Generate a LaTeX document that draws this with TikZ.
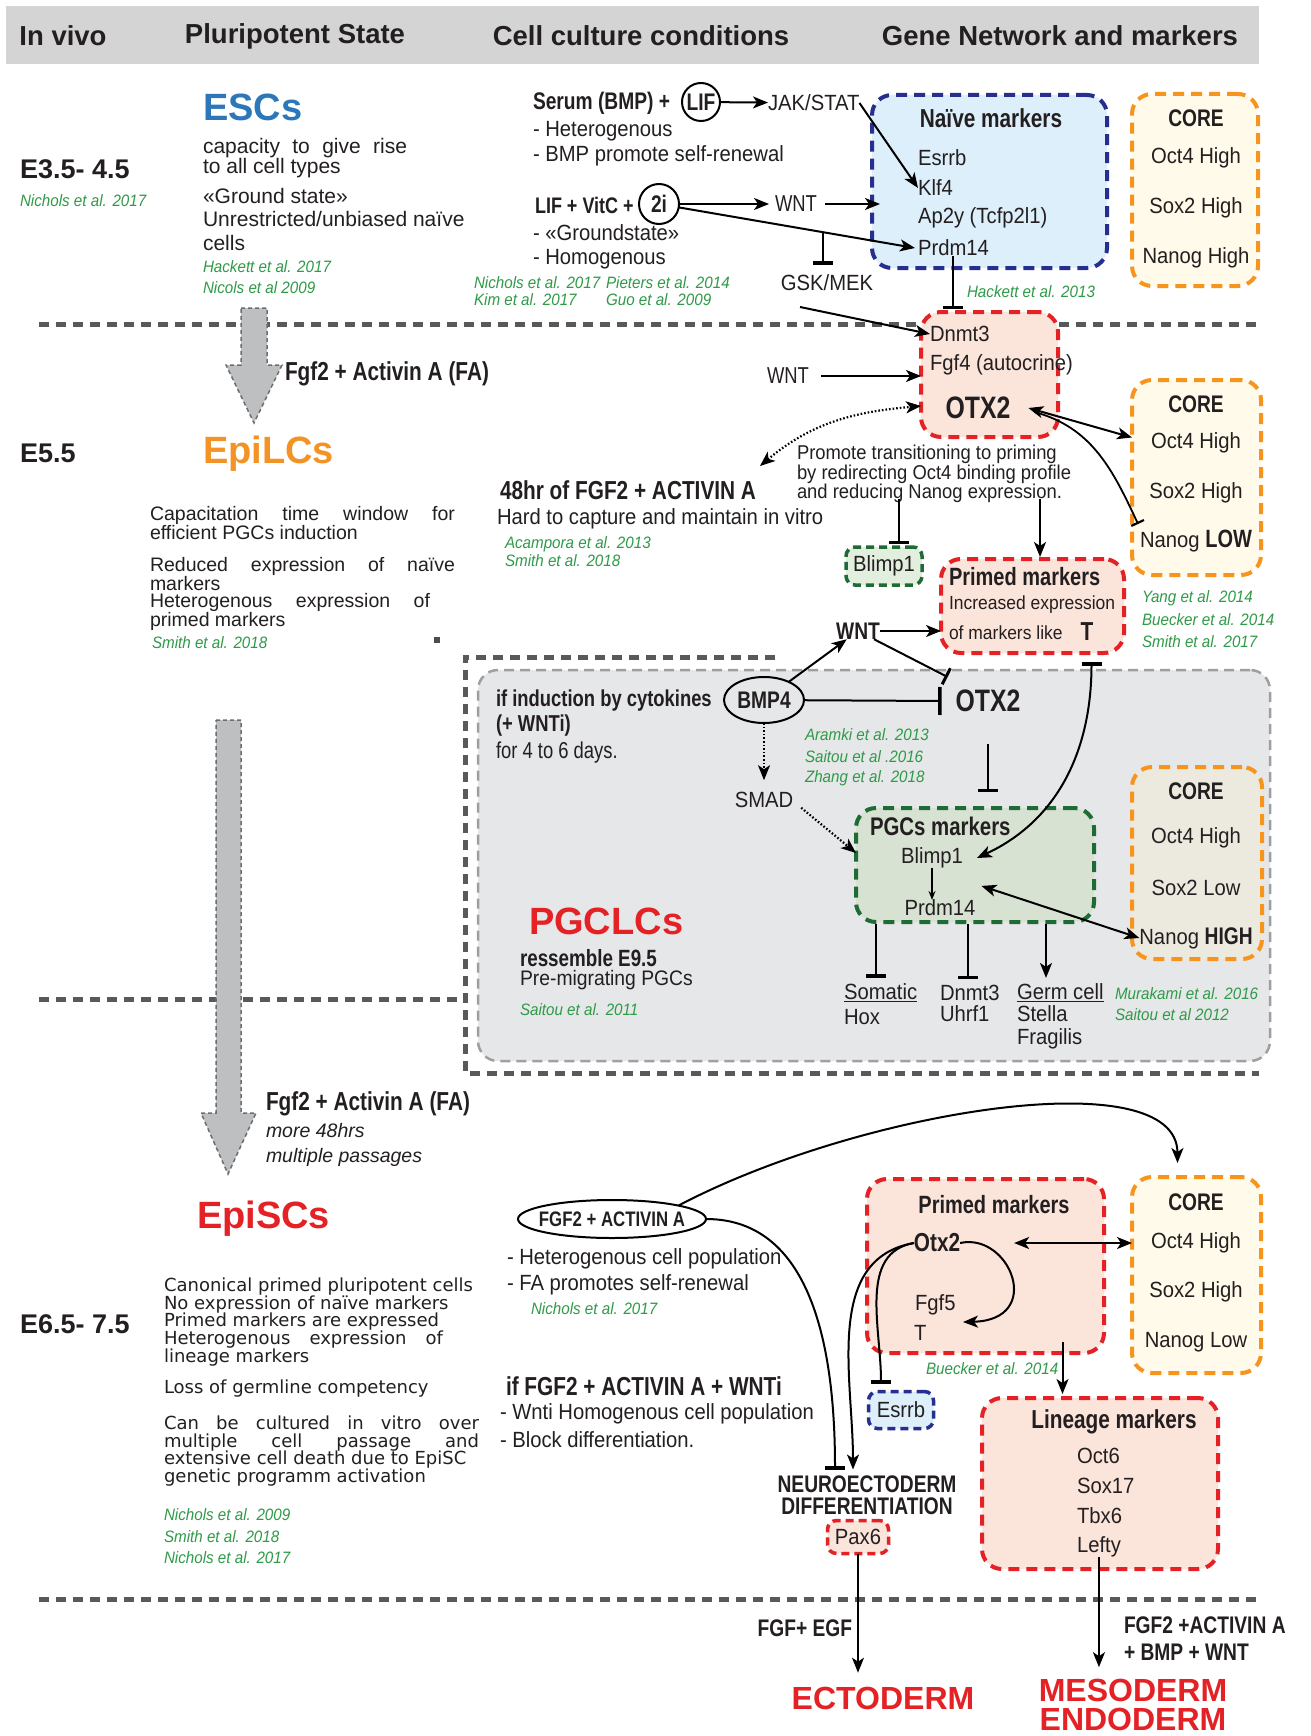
\documentclass[tikz,border=0pt]{standalone}
\usepackage{fontspec}
\setmainfont{Liberation Sans}
\newfontfamily\cnd[FakeStretch=0.8]{Liberation Sans}
\newfontfamily\cnr[FakeStretch=0.92]{Liberation Sans}
\newfontfamily\dvs{DejaVu Sans}
\usetikzlibrary{arrows.meta,shapes.geometric}
\definecolor{hdrgray}{HTML}{D4D4D5}
\definecolor{escblue}{HTML}{2B77BA}
\definecolor{epiorange}{HTML}{F39325}
\definecolor{redC}{HTML}{E42124}
\definecolor{refgreen}{HTML}{2F9A48}
\definecolor{navyC}{HTML}{262F8E}
\definecolor{lblue}{HTML}{DDEFFB}
\definecolor{orangeC}{HTML}{F7941E}
\definecolor{cream}{HTML}{FFFAEA}
\definecolor{pinkC}{HTML}{FBE4DA}
\definecolor{dgreen}{HTML}{1E6B36}
\definecolor{lgreen}{HTML}{E2EEDE}
\definecolor{pgcgreen}{HTML}{D8E2D2}
\definecolor{pgcfill}{HTML}{E6E7E8}
\definecolor{pgcline}{HTML}{9E9FA2}
\definecolor{sepgray}{HTML}{58595B}
\definecolor{blkfill}{HTML}{BEBFC1}
\definecolor{blkline}{HTML}{6D6E71}
\definecolor{coregray}{HTML}{ECEADF}
\definecolor{txt}{HTML}{231F20}
\newcommand\jline[2]{\hbox to #1{#2}}
\begin{document}
\begin{tikzpicture}[x=1pt,y=-1pt]
\tikzset{
  every node/.style={inner sep=0pt, outer sep=0pt, text=txt},
  hdr/.style={font=\bfseries\fontsize{27.5}{29}\selectfont},
  stg/.style={anchor=west, font=\bfseries\fontsize{27}{29}\selectfont},
  ttl/.style={anchor=west, font=\bfseries\fontsize{38}{40}\selectfont},
  ref/.style={anchor=west, text=refgreen, font=\cnr\itshape\fontsize{16.5}{18}\selectfont},
  cb/.style={font=\cnd\bfseries\fontsize{26}{28}\selectfont},
  cbs/.style={font=\cnd\bfseries\fontsize{24}{26}\selectfont},
  cr/.style={font=\cnr\fontsize{22}{24}\selectfont},
  crs/.style={font=\cnr\fontsize{19}{21}\selectfont},
  crc/.style={font=\cnd\fontsize{23}{25}\selectfont},
  mbox/.style={draw, line width=4pt, dash pattern=on 11pt off 7pt, rounded corners=20pt, anchor=north west},
  naivebox/.style={mbox, draw=navyC, fill=lblue},
  corebox/.style={mbox, draw=orangeC, fill=cream},
  redbox/.style={mbox, draw=redC, fill=pinkC},
  greenbox/.style={mbox, draw=dgreen, fill=pgcgreen},
  sbox/.style={draw, line width=3.5pt, dash pattern=on 8pt off 5pt, rounded corners=9pt, font=\cnr\fontsize{22}{24}\selectfont},
  arr/.style={line width=2pt, -{Stealth[length=15pt,width=12pt,inset=4pt]}},
  darr/.style={line width=2pt, {Stealth[length=15pt,width=12pt,inset=4pt]}-{Stealth[length=15pt,width=12pt,inset=4pt]}},
  inh/.style={line width=2pt, -{Bar[width=20pt,line width=3.5pt]}},
  dotarr/.style={line width=2.2pt, dash pattern=on 1.6pt off 2pt, -{Stealth[length=15pt,width=12pt,inset=4pt]}},
  ddotarr/.style={line width=2.2pt, dash pattern=on 1.6pt off 2pt, {Stealth[length=15pt,width=12pt,inset=4pt]}-{Stealth[length=15pt,width=12pt,inset=4pt]}},
  sepline/.style={draw=sepgray, line width=5pt, dash pattern=on 10pt off 7pt},
  blk/.style={fill=blkfill, draw=blkline, line width=1.5pt, dash pattern=on 4pt off 3pt},
}
\useasboundingbox (0,0) rectangle (1310,1736);
\fill[white] (0,0) rectangle (1310,1736);
% header
\fill[hdrgray] (6,6) rectangle (1259,64);
\node[hdr] (h1) at (63,36) {In vivo};
\node[hdr] (h2) at (295,36) {Pluripotent State};
\node[hdr] (h3) at (641,36) {Cell culture conditions};
\node[hdr] (h4) at (1060,36) {Gene Network and markers};
% separators
\draw[sepline] (39,324) -- (1259,324);
\draw[sepline] (39,999) -- (465,999);
\draw[sepline] (775,657) -- (465,657) -- (465,1073) -- (1259,1073);
\draw[sepline] (39,1599) -- (1259,1599);
% PGC region
\node[draw=pgcline, fill=pgcfill, dash pattern=on 10pt off 6pt, line width=2.5pt, rounded corners=20pt, minimum width=792, minimum height=391, anchor=north west] (pgcreg) at (478,670) {};
% block arrows
\draw[blk] (241,308) -- (267,308) -- (267,365) -- (282,365) -- (254,423) -- (226,365) -- (241,365) -- cycle;
\draw[blk] (216,720) -- (241,720) -- (241,1113) -- (256,1113) -- (228,1174) -- (201,1113) -- (216,1113) -- cycle;
\fill[black!70] (434,637) rectangle (440,643);
% boxes
\node[naivebox, minimum width=235, minimum height=173] (naive) at (872,95) {};
\node[corebox, minimum width=126, minimum height=192] (core1) at (1132,94) {};
\node[redbox, minimum width=137, minimum height=125] (epibox) at (921,312) {};
\node[corebox, minimum width=129, minimum height=195] (core2) at (1132,380) {};
\node[redbox, minimum width=183, minimum height=94] (primed1) at (941,559) {};
\node[sbox, draw=dgreen, fill=lgreen, minimum width=76, minimum height=38] (blimpa) at (884,566) {Blimp1};
\node[greenbox, minimum width=238, minimum height=114] (pgcbox) at (856,808) {};
\node[corebox, fill=coregray, minimum width=130, minimum height=192] (core3) at (1132,767) {};
\node[redbox, minimum width=237, minimum height=174] (primed2) at (867,1179) {};
\node[corebox, minimum width=129, minimum height=196] (core4) at (1132,1177) {};
\node[redbox, minimum width=236, minimum height=171] (lineage) at (982,1398) {};
\node[sbox, draw=navyC, fill=lblue, minimum width=65, minimum height=37] (esrrbb) at (901,1410) {Esrrb};
\node[sbox, draw=redC, fill=pinkC, minimum width=61, minimum height=33] (pax6) at (858,1537) {Pax6};
% left column
\node[stg] (e1) at (20,169) {E3.5- 4.5};
\node[ref] (r0) at (20,201) {Nichols et al. 2017};
\node[stg] (e2) at (20,453) {E5.5};
\node[stg] (e3) at (20,1324) {E6.5- 7.5};
% ESCs
\node[ttl, text=escblue] (esc) at (203,107) {ESCs};
\node[anchor=north west, align=left, font=\fontsize{21}{20}\selectfont] (escd1) at (203,138) {\jline{204pt}{capacity\hfill to\hfill give\hfill rise}\\to all cell types};
\node[anchor=north west, align=left, font=\fontsize{21}{23.5}\selectfont] (escd2) at (203,188) {«Ground state»\\Unrestricted/unbiased naïve\\cells};
\node[ref] (rh17) at (203,267) {Hackett et al. 2017};
\node[ref] (rn09) at (203,288) {Nicols et al 2009};
\node[cb, anchor=west] (fa1) at (285,374) {Fgf2 + Activin A (FA)};
% EpiLCs
\node[ttl, text=epiorange] (epilc) at (203,454) {EpiLCs};
\node[anchor=north west, align=left, font=\fontsize{19.5}{17.5}\selectfont] (epid1) at (150,506) {\jline{305pt}{Capacitation\hfill time\hfill window\hfill for}\\efficient PGCs induction};
\node[anchor=north west, align=left, font=\fontsize{19.5}{17.5}\selectfont] (epid2) at (150,557) {\jline{305pt}{Reduced\hfill expression\hfill of\hfill naïve}\\markers\\\jline{280pt}{Heterogenous\hfill expression\hfill of}\\primed markers};
\node[ref] (rs18a) at (152,643) {Smith et al. 2018};
% EpiSCs
\node[cb, anchor=west] (fa2) at (266,1104) {Fgf2 + Activin A (FA)};
\node[anchor=west, font=\itshape\fontsize{19.5}{22}\selectfont] (more) at (266,1131) {more 48hrs};
\node[anchor=west, font=\itshape\fontsize{19.5}{22}\selectfont] (mult) at (266,1157) {multiple passages};
\node[ttl, text=redC] (episc) at (197,1219) {EpiSCs};
\node[anchor=north west, align=left, font=\dvs\fontsize{18}{17.6}\selectfont] (episcd1) at (164,1278) {Canonical primed pluripotent cells\\No expression of naïve markers\\Primed markers are expressed\\\jline{279pt}{Heterogenous\hfill expression\hfill of}\\lineage markers};
\node[anchor=west, font=\dvs\fontsize{18}{20}\selectfont] (episcd2) at (164,1389) {Loss of germline competency};
\node[anchor=north west, align=left, font=\dvs\fontsize{18}{17.6}\selectfont] (episcd3) at (164,1416) {\jline{315pt}{Can\hfill be\hfill cultured\hfill in\hfill vitro\hfill over}\\\jline{315pt}{multiple\hfill cell\hfill passage\hfill and}\\extensive cell death due to EpiSC\\genetic programm activation};
\node[ref] (rn09b) at (164,1515) {Nichols et al. 2009};
\node[ref] (rs18b) at (164,1537) {Smith et al. 2018};
\node[ref] (rn17b) at (164,1558) {Nichols et al. 2017};
% culture top
\node[cbs, anchor=west] (serum) at (533,103) {Serum (BMP) +};
\node[circle, draw, line width=2pt, minimum size=38, cbs] (lif) at (701,102) {LIF};
\node[cr, anchor=west] (jak) at (768,103) {JAK/STAT};
\node[cr, anchor=west] (het1) at (533,131) {- Heterogenous};
\node[cr, anchor=west] (bmp1) at (533,156) {- BMP promote self-renewal};
\node[font=\cnd\bfseries\fontsize{22.5}{24}\selectfont, anchor=west] (lifv) at (535,205) {LIF + VitC +};
\node[circle, draw, line width=2pt, minimum size=40, cbs] (twoi) at (659,204) {2i};
\node[crc] (wnta) at (796,204) {WNT};
\node[cr, anchor=west] (gs) at (533,233) {- «Groundstate»};
\node[cr, anchor=west] (hom) at (533,259) {- Homogenous};
\node[ref] (rn17) at (474,283) {Nichols et al. 2017};
\node[ref] (rp14) at (606,283) {Pieters et al. 2014};
\node[ref] (rk17) at (474,300) {Kim et al. 2017};
\node[ref] (rg09) at (606,300) {Guo et al. 2009};
\node[cr] (gsk) at (827,283) {GSK/MEK};
% naive box texts
\node[cb] (naivet) at (991,118) {Naïve markers};
\node[cr, anchor=west] (esrrb) at (918,158) {Esrrb};
\node[cr, anchor=west] (klf4) at (918,188) {Klf4};
\node[cr, anchor=west] (ap2y) at (918,218) {Ap2y (Tcfp2l1)};
\node[cr, anchor=west] (prdm14) at (918,248) {Prdm14};
% core1
\node[cbs] (c1t) at (1196,118) {CORE};
\node[cr] (c1a) at (1196,158) {Oct4 High};
\node[cr] (c1b) at (1196,208) {Sox2 High};
\node[cr] (c1c) at (1196,258) {Nanog High};
\node[ref] (rh13) at (967,292) {Hackett et al. 2013};
% top connectors
\draw[arr] (lif) -- (jak);
\draw[arr] (jak.east) -- (klf4.west);
\draw[arr] (twoi) -- ([xshift=-6pt]wnta.west);
\draw[arr] ([xshift=8pt]wnta.east) -- ([xshift=8pt]wnta -| naive.west);
\draw[arr] (twoi) -- coordinate[pos=0.61] (gskj) ([xshift=-3pt]prdm14.west);
\draw[inh] (gskj) -- ([yshift=10pt]gskj |- gsk.north);
\draw[inh] (prdm14.south) -- ([yshift=3pt]prdm14.south |- epibox.north);
% EpiLC box
\node[cr, anchor=west] (dnmt3) at (930,334) {Dnmt3};
\node[cr, anchor=west] (fgf4) at (930,365) {Fgf4 (autocrine)};
\node[font=\cnd\bfseries\fontsize{31}{33}\selectfont] (otx2a) at (978,408) {OTX2};
\coordinate (gska) at (800,307);
\draw[arr] (gska) -- (dnmt3.west);
\node[crc] (wntc) at (788,376) {WNT};
\draw[arr] ([xshift=12pt]wntc.east) -- (wntc -| epibox.west);
\node[cb, anchor=west] (act48) at (500,490) {48hr of FGF2 + ACTIVIN A};
\node[cr, anchor=west] (hard) at (497,519) {Hard to capture and maintain in vitro};
\node[ref] (ra13) at (505,544) {Acampora et al. 2013};
\node[ref] (rs18c) at (505,561) {Smith et al. 2018};
\coordinate (dotend) at (760,466);
\draw[ddotarr] (dotend) to[out=40,in=185] ([yshift=2pt]otx2a.west -| epibox.west);
\node[anchor=north west, align=left, font=\cnr\fontsize{20}{17}\selectfont] (promote) at (797,445) {Promote transitioning to priming\\by redirecting Oct4 binding profile\\and reducing Nanog expression.};
\coordinate (pbl) at (899,499);
\draw[inh] (pbl) -- ([yshift=3pt]pbl |- blimpa.north);
\coordinate (ppr) at (1040,499);
\draw[arr] (ppr) -- ([yshift=2pt]ppr |- primed1.north);
% core2
\node[cbs] (c2t) at (1196,404) {CORE};
\node[cr] (c2a) at (1196,443) {Oct4 High};
\node[cr] (c2b) at (1196,493) {Sox2 High};
\node[cr] (nanogb) at (1196,541) {Nanog {\cnd\bfseries\fontsize{25}{27}\selectfont LOW}};
\draw[darr] ([xshift=18pt]otx2a.east) -- ([yshift=40pt]core2.west);
\draw[line width=1.8pt, -{Bar[width=14pt,line width=2.2pt]}] ([xshift=24pt,yshift=-4pt]otx2a.east) to[out=-15,in=115] ([xshift=-2pt,yshift=17pt]nanogb.west);
\node[ref] (ry14) at (1142,598) {Yang et al. 2014};
\node[ref] (rb14) at (1142,620) {Buecker et al. 2014};
\node[ref] (rs17) at (1142,642) {Smith et al. 2017};
% primed1
\node[font=\cnd\bfseries\fontsize{25}{27}\selectfont, anchor=west] (prim1t) at (949,577) {Primed markers};
\node[crs, anchor=west] (incr) at (949,605) {Increased expression};
\node[crs, anchor=west] (ofm) at (949,633) {of markers like};
\node[cb] (tT) at (1087,632) {T};
\node[cbs] (wntb) at (858,631) {WNT};
\draw[arr] (wntb) -- (wntb -| primed1.west);
% PGC region contents
\node[ellipse, draw, line width=2pt, minimum width=80, minimum height=46, cbs] (bmp4) at (764,700) {BMP4};
\node[font=\cnd\bfseries\fontsize{31}{33}\selectfont] (otx2b) at (988,701) {OTX2};
\draw[arr] (bmp4) -- (wntb);
\draw[line width=2pt, -{Bar[width=18pt,line width=3pt]}] (wntb) -- ([xshift=-8pt,yshift=24pt]otx2b.west);
\draw[line width=2pt, -{Bar[width=28pt,line width=3.5pt]}] (bmp4) -- ([xshift=-14pt]otx2b.west);
\node[font=\cnd\bfseries\fontsize{23}{25}\selectfont, anchor=west] (ifind) at (496,701) {if induction by cytokines};
\node[font=\cnd\bfseries\fontsize{23}{25}\selectfont, anchor=west] (wnti) at (496,726) {(+ WNTi)};
\node[crc, anchor=west] (days) at (496,753) {for 4 to 6 days.};
\node[cr] (smad) at (764,800) {SMAD};
\draw[dotarr] (bmp4) -- ([yshift=12pt]smad.north);
\draw[dotarr] ([xshift=8pt]smad.south east) -- ([yshift=12pt]pgcbox.west);
\node[ref] (ra13b) at (805,735) {Aramki et al. 2013};
\node[ref] (rs16) at (805,757) {Saitou et al .2016};
\node[ref] (rz18) at (805,778) {Zhang et al. 2018};
\draw[inh] ([yshift=-32pt]otx2b.south) -- ([yshift=16pt]otx2b.south |- pgcbox.north);
\node[font=\cnd\bfseries\fontsize{25.5}{27}\selectfont, anchor=west] (pgct) at (870,826) {PGCs markers};
\node[cr] (blimpb) at (932,858) {Blimp1};
\node[cr] (prdmb) at (940,908) {Prdm14};
\draw[line width=1.5pt, -{Stealth[length=9pt,width=7pt]}] (blimpb.south) -- (blimpb.south |- prdmb.north);
\draw[line width=2pt, {Bar[width=20pt,line width=3.5pt]}-{Stealth[length=15pt,width=12pt,inset=4pt]}] ([xshift=59pt,yshift=-9pt]primed1.south) to[out=-90,in=25] ([xshift=14pt]blimpb.east);
% core3
\node[cbs] (c3t) at (1196,791) {CORE};
\node[cr] (c3a) at (1196,838) {Oct4 High};
\node[cr] (c3b) at (1196,888) {Sox2 Low};
\node[cr] (nanogc) at (1196,938) {Nanog {\cnd\bfseries\fontsize{24}{26}\selectfont HIGH}};
\draw[darr] ([xshift=6pt,yshift=14pt]prdmb.north east) -- (nanogc.west);
% below PGC box
\node[cr, anchor=west] (somatic) at (844,993) {\underline{Somatic}};
\node[cr, anchor=west] (hox) at (844,1017) {Hox};
\node[cr, anchor=west] (dnmtb) at (940,993) {Dnmt3};
\node[cr, anchor=west] (uhrf) at (940,1014) {Uhrf1};
\node[cr, anchor=west] (germ) at (1017,993) {\underline{Germ cell}};
\node[cr, anchor=west] (stella) at (1017,1014) {Stella};
\node[cr, anchor=west] (fragilis) at (1017,1039) {Fragilis};
\coordinate (s1) at (876,924);
\coordinate (s2) at (968,924);
\coordinate (s3) at (1046,924);
\draw[inh] (s1) -- ([yshift=6pt]s1 |- somatic.north);
\draw[inh] (s2) -- ([yshift=6pt]s2 |- dnmtb.north);
\draw[arr] (s3) -- ([yshift=6pt]s3 |- germ.north);
\node[ref] (rm16) at (1115,994) {Murakami et al. 2016};
\node[ref] (rs12) at (1115,1015) {Saitou et al 2012};
\node[ttl, text=redC] (pgclc) at (529,921) {PGCLCs};
\node[font=\cnd\bfseries\fontsize{23.5}{25}\selectfont, anchor=west] (ress) at (520,958) {ressemble E9.5};
\node[font=\cnr\fontsize{21}{23}\selectfont, anchor=west] (prem) at (520,980) {Pre-migrating PGCs};
\node[ref] (rs11) at (520,1010) {Saitou et al. 2011};
% bottom culture
\node[ellipse, draw, line width=2pt, inner xsep=-15pt, minimum width=188, minimum height=38, font=\cnd\bfseries\fontsize{21}{23}\selectfont] (fa) at (612,1219) {FGF2 + ACTIVIN A};
\node[cr, anchor=west] (hetc) at (507,1259) {- Heterogenous cell population};
\node[cr, anchor=west] (fapr) at (507,1285) {- FA promotes self-renewal};
\node[ref] (rn17c) at (531,1309) {Nichols et al. 2017};
\node[cb, anchor=west] (ifwnt) at (506,1386) {if FGF2 + ACTIVIN A + WNTi};
\node[cr, anchor=west] (wntih) at (500,1414) {- Wnti Homogenous cell population};
\node[cr, anchor=west] (block) at (500,1440) {- Block differentiation.};
% primed2
\node[font=\cnd\bfseries\fontsize{25}{27}\selectfont] (prim2t) at (994,1205) {Primed markers};
\node[font=\cnd\bfseries\fontsize{26}{28}\selectfont] (otx2c) at (937,1243) {Otx2};
\node[cr, anchor=west] (fgf5) at (915,1305) {Fgf5};
\node[cr, anchor=west] (tt2) at (914,1333) {T};
\coordinate (loopend) at (963,1322);
\draw[arr] (otx2c.east) .. controls (1010,1232) and (1045,1320) .. (loopend);
\draw[darr] ([xshift=54pt]otx2c.east) -- (core4.west |- otx2c.east);
\node[ref] (rb14b) at (926,1369) {Buecker et al. 2014};
% core4
\node[cbs] (c4t) at (1196,1202) {CORE};
\node[cr] (c4a) at (1196,1243) {Oct4 High};
\node[cr] (c4b) at (1196,1292) {Sox2 High};
\node[cr] (c4c) at (1196,1342) {Nanog Low};
% lineage
\node[font=\cnd\bfseries\fontsize{26}{28}\selectfont] (lint) at (1114,1422) {Lineage markers};
\node[cr, anchor=west] (oct6) at (1077,1456) {Oct6};
\node[cr, anchor=west] (sox17) at (1077,1486) {Sox17};
\node[cr, anchor=west] (tbx6) at (1077,1516) {Tbx6};
\node[cr, anchor=west] (lefty) at (1077,1547) {Lefty};
\draw[arr] ([xshift=77pt,yshift=11pt]primed2.south) -- ([xshift=77pt,yshift=4pt]primed2.south |- lineage.north);
% neuro
\node[align=center, font=\cnd\bfseries\fontsize{24}{22}\selectfont] (neuro) at (867,1495) {NEUROECTODERM\\DIFFERENTIATION};
\draw[arr] (fa.north east) .. controls (860,1110) and (1177,1060) .. ([xshift=-19pt,yshift=14pt]core4.north);
\draw[inh] (fa.east) to[out=0,in=90] ([xshift=-32pt,yshift=6pt]neuro.north);
\draw[inh] (otx2c.west) to[out=190,in=90] ([xshift=-20pt,yshift=8pt]esrrbb.north);
\draw[arr] (otx2c.west) to[out=190,in=90] ([xshift=-14pt,yshift=6pt]neuro.north);
% germ layers
\node[font=\bfseries\fontsize{32}{34}\selectfont, text=redC] (ecto) at (883,1698) {ECTODERM};
\draw[arr] (pax6) -- ([yshift=14pt]pax6 |- ecto.north);
\node[cbs, anchor=east] (fgfegf) at (852,1628) {FGF+ EGF};
\node[align=center, font=\bfseries\fontsize{32}{29}\selectfont, text=redC] (meso) at (1133,1705) {MESODERM\\ENDODERM};
\draw[arr] (lefty.south) -- ([yshift=12pt]lefty.south |- meso.north);
\node[cbs, anchor=west] (fgfa) at (1124,1625) {FGF2 +ACTIVIN A};
\node[cbs, anchor=west] (bmpw) at (1124,1652) {+ BMP + WNT};
\end{tikzpicture}
\end{document}
